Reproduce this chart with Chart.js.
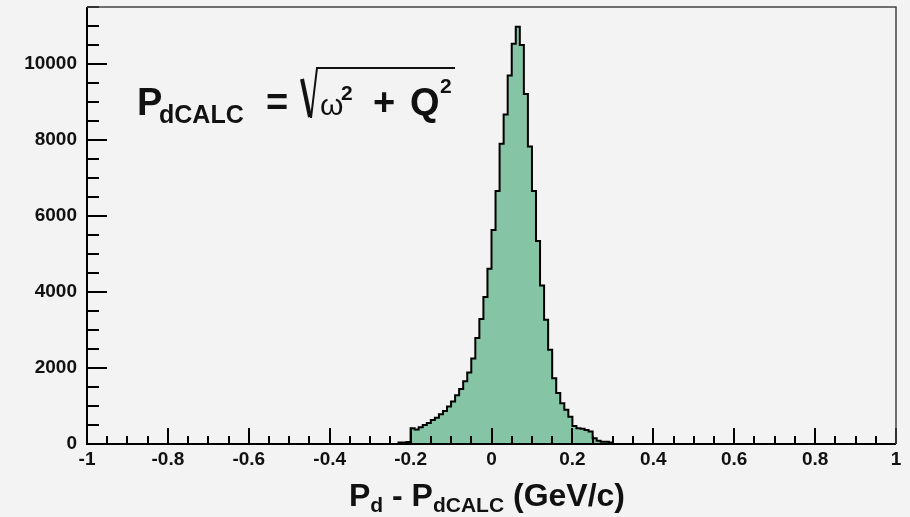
<!DOCTYPE html>
<html>
<head>
<meta charset="utf-8">
<script src="https://cdn.jsdelivr.net/npm/chart.js@4.4.0/dist/chart.umd.min.js"></script>
<style>
  html, body { margin: 0; padding: 0; background: #f3f3f3; }
  #wrap { width: 910px; height: 517px; }
</style>
</head>
<body>
<div id="wrap"><canvas id="chartCanvas"></canvas></div>
<script>
// histogram of Pd - PdCALC, bins of 0.01 GeV/c starting at -0.23
const binStart = -0.23;
const binWidth = 0.01;
const counts = [
    40, 40, 50, 414, 380, 440, 500, 550, 630, 690,
    780, 870, 990, 1120, 1280, 1450, 1650, 1880, 2250, 2790,
    3290, 3870, 4610, 5630, 6660, 7900, 8670, 9700, 10530, 10980,
    10500, 9210, 7830, 6660, 5340, 4170, 3270, 2480, 1730, 1340,
    1070, 900, 720, 475, 414, 400, 370, 326, 150, 88,
    60, 60, 40
];
const xRange = [-1, 1];
const yRange = [0, 11500];
const xTickValues = [-1, -0.8, -0.6, -0.4, -0.2, 0, 0.2, 0.4, 0.6, 0.8, 1];
const yTickValues = [0, 2000, 4000, 6000, 8000, 10000];
const xMinor = 0.05, yMinor = 500;

const FONT = '"Liberation Sans", Arial, sans-serif';

function histPoints() {
    const pts = [{x: xRange[0], y: 0}];
    counts.forEach((c, i) => pts.push({x: binStart + i * binWidth, y: c}));
    pts.push({x: binStart + counts.length * binWidth, y: 0});
    pts.push({x: xRange[1], y: 0});
    return pts;
}

// ROOT style frame + inside ticks
const framePlugin = {
    id: 'frame',
    afterDatasetsDraw(chart) {
        const {ctx, chartArea: a, scales: {x, y}} = chart;
        ctx.save();
        ctx.strokeStyle = '#000';
        ctx.lineWidth = 2;
        ctx.beginPath();
        let n = Math.round((yRange[1] - yRange[0]) / yMinor);
        for (let k = 0; k <= n; k++) {
            const v = yRange[0] + k * yMinor;
            const py = Math.round(y.getPixelForValue(v));
            const len = yTickValues.includes(v) ? 20 : 12;
            ctx.moveTo(a.left, py);
            ctx.lineTo(a.left + len, py);
        }
        n = Math.round((xRange[1] - xRange[0]) / xMinor);
        for (let k = 0; k <= n; k++) {
            const px = Math.round(x.getPixelForValue(xRange[0] + k * xMinor));
            const len = k % 4 === 0 ? 16 : 8;
            ctx.moveTo(px, a.bottom);
            ctx.lineTo(px, a.bottom - len);
        }
        ctx.stroke();

        ctx.beginPath();
        ctx.moveTo(a.left, a.top);
        ctx.lineTo(a.left, a.bottom);
        ctx.lineTo(a.right, a.bottom);
        ctx.stroke();

        ctx.strokeStyle = '#444';
        ctx.lineWidth = 1.5;
        ctx.beginPath();
        ctx.moveTo(a.left, a.top);
        ctx.lineTo(a.right, a.top);
        ctx.lineTo(a.right, a.bottom);
        ctx.stroke();
        ctx.restore();
    }
};

function drawRuns(ctx, runs, cx, base) {
    let w = 0;
    runs.forEach(r => { ctx.font = r.f; w += ctx.measureText(r.t).width; });
    let px = cx - w / 2;
    runs.forEach(r => {
        ctx.font = r.f;
        ctx.fillText(r.t, px, base + (r.dy || 0));
        px += ctx.measureText(r.t).width;
    });
}

const textPlugin = {
    id: 'texts',
    afterDraw(chart) {
        const ctx = chart.ctx;
        ctx.save();
        ctx.fillStyle = '#111';
        ctx.textBaseline = 'alphabetic';
        ctx.textAlign = 'left';

        // formula
        ctx.font = 'bold 38px ' + FONT;
        ctx.fillText('P', 137, 115);
        ctx.font = 'bold 25px ' + FONT;
        ctx.fillText('dCALC', 159, 123);
        ctx.font = 'bold 38px ' + FONT;
        ctx.fillText('=', 266, 115);
        ctx.font = '30px ' + FONT;
        ctx.fillText('\u03c9', 320, 115);
        ctx.font = 'bold 21px ' + FONT;
        ctx.fillText('2', 341, 100);
        ctx.font = 'bold 38px ' + FONT;
        ctx.fillText('+', 373, 115);
        ctx.fillText('Q', 410, 115);
        ctx.font = 'bold 21px ' + FONT;
        ctx.fillText('2', 440, 93);

        ctx.strokeStyle = '#111';
        ctx.lineWidth = 4;
        ctx.beginPath();
        ctx.moveTo(302, 79);
        ctx.lineTo(310, 117);
        ctx.stroke();
        ctx.lineWidth = 2;
        ctx.beginPath();
        ctx.moveTo(311, 118);
        ctx.lineTo(317, 68);
        ctx.lineTo(455, 68);
        ctx.stroke();

        // x axis title
        const big = 'bold 32px ' + FONT, small = 'bold 21px ' + FONT;
        drawRuns(ctx, [
            {t: 'P', f: big},
            {t: 'd', f: small, dy: 6},
            {t: ' - P', f: big},
            {t: 'dCALC', f: small, dy: 6},
            {t: ' (GeV/c)', f: big}
        ], 487, 506);
        ctx.restore();
    }
};

const ctx = document.getElementById('chartCanvas').getContext('2d');
new Chart(ctx, {
    type: 'line',
    data: {
        datasets: [{
            data: histPoints(),
            stepped: true,
            fill: 'origin',
            backgroundColor: '#85c4a4',
            borderColor: '#000',
            borderWidth: 2,
            pointRadius: 0,
            tension: 0
        }]
    },
    options: {
        responsive: true,
        maintainAspectRatio: false,
        animation: false,
        events: [],
        layout: {padding: {top: 7, right: 14, left: 0, bottom: 0}},
        plugins: {legend: {display: false}, tooltip: {enabled: false}},
        scales: {
            x: {
                type: 'linear',
                min: xRange[0],
                max: xRange[1],
                grid: {display: false, drawTicks: false},
                border: {display: false},
                afterBuildTicks: s => { s.ticks = xTickValues.map(v => ({value: v})); },
                ticks: {
                    autoSkip: false,
                    maxRotation: 0,
                    padding: 4,
                    color: '#111',
                    font: {family: FONT, size: 19, weight: 'bold'},
                    callback: v => String(+v.toFixed(2))
                },
                afterFit: s => { s.height = 73; s.paddingLeft = 0; s.paddingRight = 0; }
            },
            y: {
                min: yRange[0],
                max: yRange[1],
                grid: {display: false, drawTicks: false},
                border: {display: false},
                afterBuildTicks: s => { s.ticks = yTickValues.map(v => ({value: v})); },
                ticks: {
                    autoSkip: false,
                    padding: 10,
                    color: '#111',
                    font: {family: FONT, size: 19, weight: 'bold'},
                    callback: v => String(v)
                },
                afterFit: s => { s.width = 87; s.paddingTop = 0; s.paddingBottom = 0; }
            }
        }
    },
    plugins: [framePlugin, textPlugin]
});
</script>
</body>
</html>
